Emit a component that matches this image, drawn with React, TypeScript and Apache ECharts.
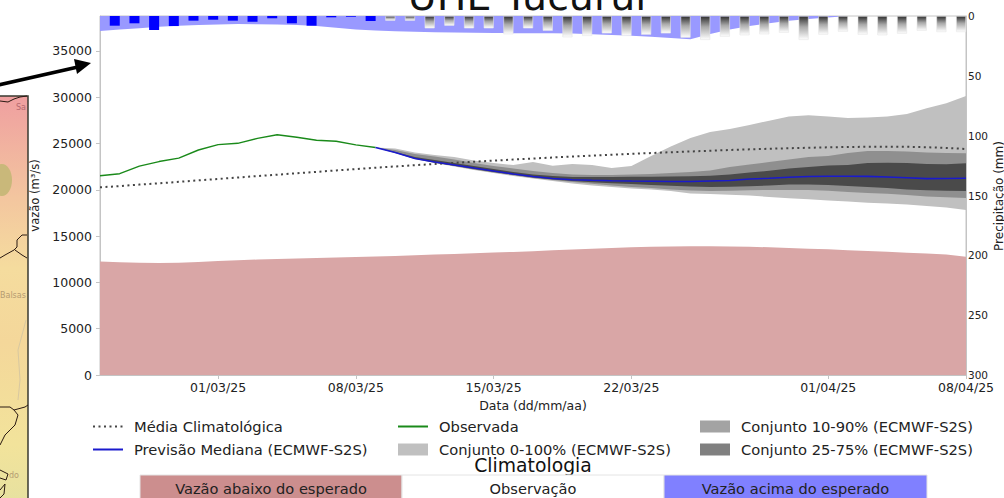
import React, { useEffect, useRef } from "react";
import * as echarts from "echarts";

const FONT = "DejaVu Sans";
const tickDays = [6, 13, 20, 27, 37, 44];
const tickLabels = ["01/03/25", "08/03/25", "15/03/25", "22/03/25", "01/04/25", "08/04/25"];
const flowTicks = [0, 5000, 10000, 15000, 20000, 25000, 30000, 35000];
const FLOW_TOP = 38770;

const climMean = [20270,20400,20560,20700,20860,21020,21170,21330,21480,21630,21790,21940,22090,22240,22390,22520,22660,22790,22910,23030,23150,23270,23380,23490,23590,23690,23790,23880,23970,24060,24140,24220,24300,24370,24430,24490,24540,24590,24620,24650,24660,24650,24600,24520,24410];
const lowBound = [12250,12180,12120,12100,12130,12200,12320,12400,12470,12530,12590,12640,12680,12730,12790,12860,12930,13000,13080,13150,13220,13290,13370,13460,13550,13640,13720,13790,13840,13880,13900,13900,13880,13850,13790,13720,13640,13570,13480,13390,13300,13210,13110,13000,12780];
const highBound = [37150,37300,37450,37600,37720,37800,37850,37900,37880,37850,37800,37700,37500,37320,37200,37120,37060,37020,36990,36960,36930,36920,36910,36900,36880,36800,36730,36650,36520,36400,36250,36830,37300,37680,37980,38250,38440,38620,38760,38900,39000,39000,39000,39000,39000];
const observed = [21520,21740,22550,23050,23420,24300,24880,25020,25560,25950,25670,25350,25240,24850,24570];

const FC_START = 14;
const median = [24570,24030,23380,23000,22680,22350,22030,21710,21440,21220,21090,21030,20980,20950,20930,20900,20900,20950,21000,21170,21240,21350,21440,21460,21470,21450,21380,21310,21210,21220,21240];
const p100 = [24570,24460,24030,23760,23540,23170,22900,22680,23000,22600,22790,22680,22360,22570,23650,24680,25600,26240,26570,27000,27460,27920,28050,27920,27760,27810,27920,28190,28800,29340,30130];
const p90 = [24570,24300,23870,23600,23270,22900,22570,22300,22030,21820,21650,21600,21600,21650,21710,21820,21920,22090,22460,22730,23000,23270,23540,23650,23980,24190,24190,24140,24030,23980,23940];
const p75 = [24570,24080,23540,23220,22900,22570,22250,21920,21650,21490,21380,21380,21380,21400,21420,21440,21470,21510,21650,21870,22050,22300,22460,22630,22680,22900,22930,22900,22790,22750,22860];
const p25 = [24570,24020,23380,22950,22600,22250,21920,21620,21330,21110,20950,20810,20710,20630,20520,20430,20360,20300,20340,20390,20470,20570,20560,20520,20410,20300,20200,20030,19950,19900,19870];
const p10 = [24570,23980,23330,22920,22570,22190,21870,21570,21280,21060,20840,20660,20460,20300,20200,20030,19930,19870,19900,19950,19980,19980,19980,19900,19760,19660,19570,19440,19280,19190,19120];
const p0 = [24570,23980,23330,22900,22520,22140,21820,21490,21220,20950,20680,20470,20300,20140,20030,19870,19600,19550,19470,19390,19220,19080,18970,18840,18740,18610,18520,18410,18250,18090,17820];

const rainObserved = [8.1,6.1,11.7,8.4,3.9,3.1,3.9,4.8,1.9,6.1,8.1,1.1,0.6,4.2];
const rainForecast = [3.9,3.9,10.3,8.1,10.3,10.3,15.3,10.3,12.3,17.8,16.7,14.5,16.7,15.6,14.5,18.1,20,17.3,16.1,15.3,14,20,15.6,13.1,15.6,16.1,14.8,12.3,13.4,13.4];

const S0 = "Conjunto 0-100% (ECMWF-S2S)";
const S10 = "Conjunto 10-90% (ECMWF-S2S)";
const S25 = "Conjunto 25-75% (ECMWF-S2S)";
const SMEAN = "Média Climatológica";
const SMED = "Previsão Mediana (ECMWF-S2S)";
const SOBS = "Observada";

const climCells = ["Vazão abaixo do esperado", "Observação", "Vazão acima do esperado"];

const pairs = (a: number[], start = 0) => a.map((v, i) => [i + start, v]);

const band = (name: string, upper: number[], lower: number[], color: string, z: number) => ({
  name, type: "custom", z, itemStyle: { color },
  data: upper.map((v, i) => [i + FC_START, lower[i], v]),
  encode: { x: 0, y: [1, 2] },
  renderItem: (params: any, api: any) => {
    if (params.dataIndex !== 0) return null;
    const top = upper.map((v, i) => api.coord([i + FC_START, v]));
    const bottom = lower.map((v, i) => api.coord([i + FC_START, v])).reverse();
    return { type: "polygon", shape: { points: [...top, ...bottom] }, style: { fill: color } };
  },
});

const barGrad = new echarts.graphic.LinearGradient(0, 0, 0, 1, [
  { offset: 0, color: "#2f2f2f" }, { offset: 0.45, color: "#a8a8a8" }, { offset: 1, color: "#ffffff" },
]);

const legendBase = (left: number, data: any[]) => ({
  show: true, orient: "vertical", left, top: 419, padding: 0, itemWidth: 30, itemHeight: 12, itemGap: 8,
  selectedMode: false, data,
  textStyle: { fontFamily: FONT, fontSize: 14.7, color: "#222", padding: [0, 0, 0, 6] },
});

const borderLine = (points: number[][], stroke = "#2b1a12", lineWidth = 1) => ({
  type: "polyline", shape: { points }, style: { stroke, lineWidth, fill: "none" }, silent: true,
});

const cell = (x: number, w: number, fill: string, text: string) => ([
  { type: "rect", shape: { x, y: 475, width: w, height: 30 }, style: { fill, stroke: "#e4e4e4", lineWidth: 1 }, silent: true },
  { type: "text", x: x + w / 2, y: 488, style: { text, fill: "#222", font: `14.6px "${FONT}"`, textAlign: "center", textVerticalAlign: "middle" }, silent: true },
]);

const graphics: any[] = [
  { type: "rect", shape: { x: -2, y: 96, width: 30, height: 410 }, silent: true,
    style: { fill: new echarts.graphic.LinearGradient(0, 0, 0, 1, [
      { offset: 0, color: "#ef9fa0" }, { offset: 0.25, color: "#f3c69f" }, { offset: 0.42, color: "#f5dc9e" },
      { offset: 0.6, color: "#f4d79a" }, { offset: 0.85, color: "#f2e39b" }, { offset: 1, color: "#e6e1a0" },
    ]), stroke: "#3a3a30", lineWidth: 1.5 } },
  { type: "ellipse", shape: { cx: 2, cy: 180, rx: 10, ry: 16 }, style: { fill: "#c9b87a" }, silent: true },
  borderLine([[0,101],[8,102],[14,99],[20,97],[27,96]]),
  borderLine([[0,258],[5,255],[14,250],[17,247],[17,240],[22,235],[27,235]]),
  borderLine([[15,250],[22,255],[27,258]]),
  borderLine([[0,407],[10,407],[14,410],[18,415]]),
  borderLine([[14,410],[25,407],[28,405]]),
  borderLine([[18,415],[15,425],[5,435],[0,445]]),
  borderLine([[26,320],[18,350],[20,380],[18,400]], "#d8c8a0"),
  borderLine([[0,470],[8,474],[6,480],[0,478]]),
  borderLine([[0,490],[5,484],[4,494],[0,498]]),
  { type: "text", x: 16, y: 103, style: { text: "Sa", fill: "#b56a70", font: `8px "${FONT}"` }, silent: true },
  { type: "text", x: 0, y: 291, style: { text: "Balsas", fill: "#b59c72", font: `8px "${FONT}"` }, silent: true },
  { type: "text", x: 9, y: 471, style: { text: "do", fill: "#b59c72", font: `8px "${FONT}"` }, silent: true },
  { type: "line", shape: { x1: -2, y1: 85, x2: 78, y2: 67 }, style: { stroke: "#000", lineWidth: 3.6 }, silent: true },
  { type: "polygon", shape: { points: [[91,63],[74,59],[77,74]] }, style: { fill: "#000" }, silent: true },
  { type: "text", x: 527, y: -4, style: { text: "UHE Tucuruí", fill: "#111", font: `39.5px "${FONT}"`, textAlign: "center", textVerticalAlign: "middle" }, silent: true },
  { type: "text", x: 998.5, y: 196, rotation: Math.PI / 2, style: { text: "Precipitação (mm)", fill: "#222", font: `12px "${FONT}"`, textAlign: "center", textVerticalAlign: "middle" }, silent: true },
  { type: "text", x: 533, y: 465, style: { text: "Climatologia", fill: "#111", font: `18.8px "${FONT}"`, textAlign: "center", textVerticalAlign: "middle" }, silent: true },
  ...cell(140, 262, "#cc8e8e", climCells[0]),
  ...cell(402, 262, "#ffffff", climCells[1]),
  ...cell(664, 263, "#8080ff", climCells[2]),
];

export default function App() {
  const ref = useRef<HTMLDivElement>(null);
  useEffect(() => {
    document.body.style.margin = "0";
    const chart = echarts.init(ref.current!, undefined, { renderer: "svg" });
    const axisLine = { show: true, lineStyle: { color: "#c4c4c4", width: 1 } };
    const axisTick = { show: true, length: 4, lineStyle: { color: "#c4c4c4" } };
    chart.setOption({
      animation: false,
      backgroundColor: "#fff",
      grid: { left: 100, right: 38, top: 16, bottom: 123, show: true, borderColor: "#c4c4c4", borderWidth: 1, backgroundColor: "transparent", outerBoundsMode: "none" },
      xAxis: {
        type: "value", min: 0, max: 44, splitLine: { show: false },
        axisLine, axisTick: { ...axisTick, customValues: tickDays },
        axisLabel: { customValues: tickDays, fontFamily: FONT, fontSize: 12.5, color: "#222", margin: 6, hideOverlap: false,
          formatter: (v: number) => tickLabels[tickDays.indexOf(v)] ?? "" },
        name: "Data (dd/mm/aa)", nameLocation: "middle", nameGap: 24,
        nameTextStyle: { fontFamily: FONT, fontSize: 12.5, color: "#222" },
      },
      yAxis: [
        { type: "value", min: 0, max: FLOW_TOP, splitLine: { show: false }, axisLine, axisTick: { ...axisTick, customValues: flowTicks },
          axisLabel: { customValues: flowTicks, fontFamily: FONT, fontSize: 12.5, color: "#222", margin: 8, formatter: (v: number) => String(v) },
          name: "vazão (m³/s)", nameLocation: "middle", nameGap: 56, nameTextStyle: { fontFamily: FONT, fontSize: 11.5, color: "#222" } },
        { type: "value", min: 0, max: 300, interval: 50, inverse: true, position: "right", splitLine: { show: false }, axisLine,
          axisTick: { show: false }, axisLabel: { fontFamily: FONT, fontSize: 10.5, color: "#222", margin: 2 } },
      ],
      legend: [
        legendBase(92, [{ name: SMEAN, itemStyle: { opacity: 0 } }, { name: SMED, itemStyle: { opacity: 0 } }]),
        legendBase(397, [{ name: SOBS, itemStyle: { opacity: 0 } }, { name: S0, icon: "rect", itemStyle: { color: "#c0c0c0" } }]),
        legendBase(700, [{ name: S10, icon: "rect", itemStyle: { color: "#a3a3a3" } }, { name: S25, icon: "rect", itemStyle: { color: "#808080" } }]),
      ],
      graphic: graphics,
      series: [
        { name: "Vazão abaixo", type: "line", data: pairs(lowBound), showSymbol: false, symbol: "none", lineStyle: { width: 0, opacity: 0 },
          areaStyle: { color: "#d9a6a6", opacity: 1, origin: "start" }, z: 2 },
        { name: "Vazão acima", type: "line", data: pairs(highBound), showSymbol: false, symbol: "none", lineStyle: { width: 0, opacity: 0 },
          areaStyle: { color: "#9999ff", opacity: 1, origin: "end" }, z: 2 },
        band(S0, p100, p0, "#c0c0c0", 3),
        band(S10, p90, p10, "#8f8f8f", 3),
        band(S25, p75, p25, "#4a4a4a", 3),
        { name: SMEAN, type: "line", data: pairs(climMean), showSymbol: false, symbol: "none", z: 5,
          lineStyle: { color: "#444", width: 2, type: [2, 3.5] }, itemStyle: { color: "#444" } },
        { name: SOBS, type: "line", data: pairs(observed), showSymbol: false, symbol: "none", z: 6,
          lineStyle: { color: "#1a8a1a", width: 1.4 }, itemStyle: { color: "#1a8a1a" } },
        { name: SMED, type: "line", data: pairs(median, FC_START), showSymbol: false, symbol: "none", z: 6,
          lineStyle: { color: "#1a1acd", width: 1.6 }, itemStyle: { color: "#1a1acd" } },
        { name: "Precipitação", type: "bar", yAxisIndex: 1, barWidth: 10, z: 7,
          data: [
            ...rainObserved.map((v, i) => ({ value: [i + 0.75, v], itemStyle: { color: "#0000ff" } })),
            ...rainForecast.map((v, i) => ({ value: [i + rainObserved.length + 0.75, v], itemStyle: { color: barGrad, borderColor: "#e6e6e6", borderWidth: 0.6 } })),
          ] },
      ],
    });
    return () => chart.dispose();
  }, []);
  return <div ref={ref} style={{ position: "fixed", left: 0, top: 0, width: 1004, height: 498, overflow: "hidden" }} />;
}
